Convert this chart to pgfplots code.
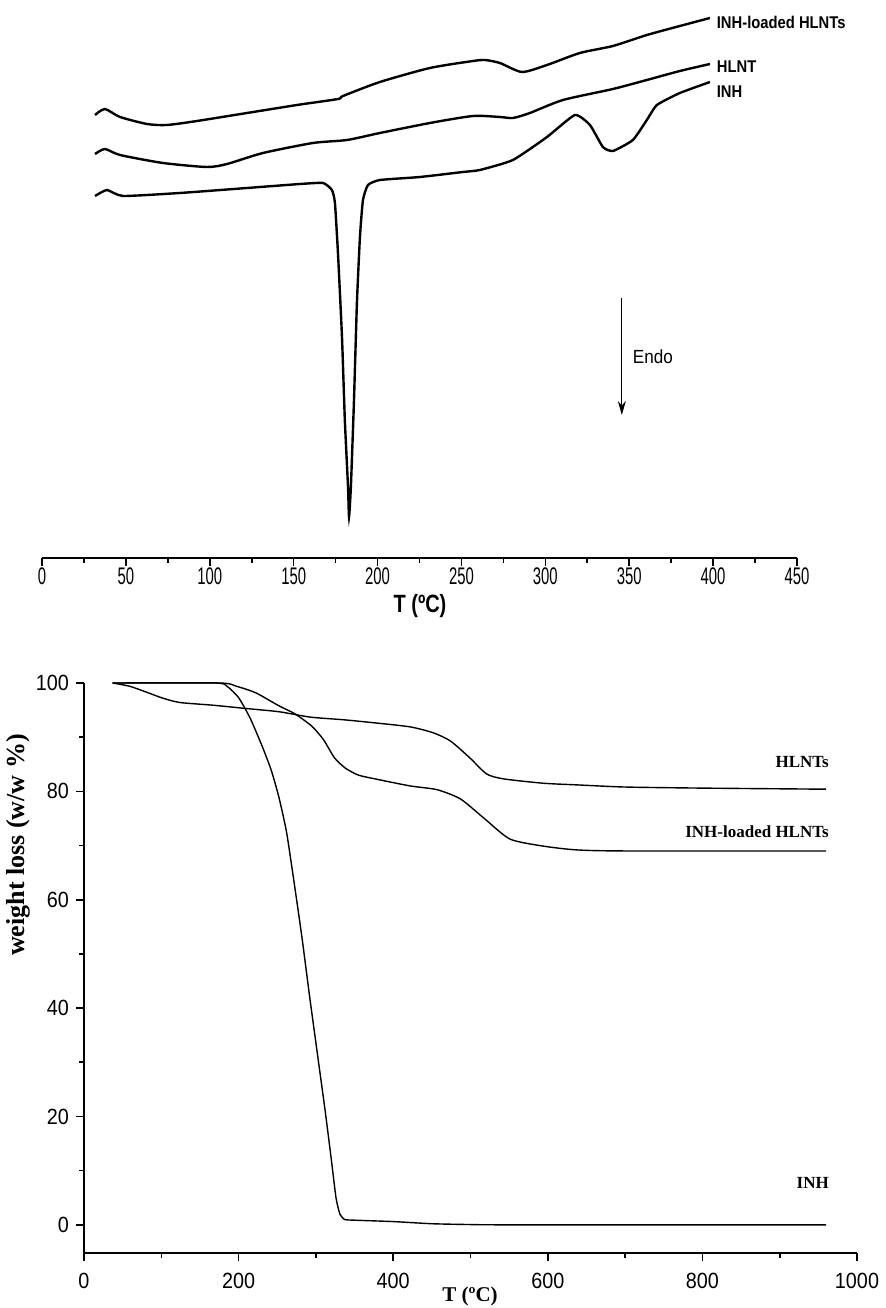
\documentclass[border=0pt]{standalone}
\usepackage{pgfplots}
\pgfplotsset{compat=1.18}
\usepackage{fontspec}
\setmainfont{Liberation Serif}
\newfontfamily\arial{Liberation Sans}
\usetikzlibrary{arrows.meta}
\begin{document}
\begin{tikzpicture}
\useasboundingbox (0,0) rectangle (443pt,654pt);
% ---------------- DSC (top) ----------------
\begin{axis}[
  at={(21pt,375pt)}, anchor=south west,
  scale only axis, width=377.5pt, height=274pt,
  xmin=0, xmax=450, ymin=0, ymax=548,
  axis x line=bottom, axis y line=none,
  axis line style={-, line width=1pt},
  xtick={0,50,...,450}, minor x tick num=1,
  tick align=outside,
  major tick length=4pt, minor tick length=2.5pt,
  every tick/.style={black, line width=0.8pt},
  xticklabel={\scalebox{0.62}[1]{\arial\fontsize{12}{13}\selectfont\pgfmathprintnumber[assume math mode=true]{\tick}}},
  xticklabel style={yshift=2.5pt},
  clip=false,
]
\addplot[black, line width=1.2pt, smooth, tension=0.4] coordinates {
(31.6,443)(37.5,449)(46.5,441)(62.6,434)(74.5,433)(92.4,437)(122.2,445)(152.0,453)(176.4,459)(179.4,462)(201.4,476)(231.2,490)(256.9,497)(264,498)(272.9,495)(286.1,486)(301.0,493)(320.6,505)(340.3,512)(360.5,523)(380.2,532)(398.1,540)
};
\addplot[black, line width=1.2pt, smooth, tension=0.4] coordinates {
(31.6,404)(37.5,409)(46.5,403)(72.1,395)(98.3,391)(110.3,394)(131.7,405)(161.5,415)(181.8,418)(201.4,425)(231.2,435)(256.9,442)(272.9,441)(280.7,440)(290.8,445)(310.5,458)(340.3,469)(360.5,478)(380.2,487)(398.1,494)
};
\addplot[black, line width=1.2pt, smooth, tension=0.3] coordinates {
(31.6,362)(38.7,368)(48.3,362)(82.2,365)(122.2,370)(153.8,374)(167.5,375)(172.8,368)(174.6,355)(176.4,305)(178.8,221)(180.5,138)(182.4,71)(183.0,41)(184.1,71)(185.9,155)(187.7,255)(189.5,321)(191.3,358)(194.3,373)(201.4,378)(225.3,381)(250.9,386)(261.0,388)(280.7,398)(301.0,421)(317.6,443)(326.6,433)(334.3,411)(340.3,407)(352.2,418)(360.5,438)(366.5,453)(380.2,465)(398.1,476)
};
\node[anchor=west, inner sep=0pt] at (axis cs:402,536) {\scalebox{0.87}[1]{\arial\bfseries\fontsize{8.5}{10}\selectfont INH-loaded HLNTs}};
\node[anchor=west, inner sep=0pt] at (axis cs:402,491) {\scalebox{0.87}[1]{\arial\bfseries\fontsize{8.5}{10}\selectfont HLNT}};
\node[anchor=west, inner sep=0pt] at (axis cs:402,466) {\scalebox{0.87}[1]{\arial\bfseries\fontsize{8.5}{10}\selectfont INH}};
\draw[line width=0.5pt, -{Stealth[length=7pt,width=4pt]}] (axis cs:345.6,260) -- (axis cs:345.6,143);
\node[anchor=west, inner sep=0pt] at (axis cs:352,201) {\scalebox{0.9}[1]{\arial\fontsize{9.5}{10}\selectfont Endo}};
\end{axis}
\node at (210pt,351pt) {\scalebox{0.8}[1]{\arial\bfseries\fontsize{12.5}{14}\selectfont T (ºC)}};
% ---------------- TGA (bottom) ----------------
\begin{axis}[
  at={(42pt,27.5pt)}, anchor=south west,
  scale only axis, width=386.5pt, height=285pt,
  xmin=0, xmax=1000, ymin=-5.2, ymax=100,
  axis x line=bottom, axis y line=left,
  axis line style={-, line width=1pt},
  xtick={0,200,...,1000}, minor x tick num=1,
  ytick={0,20,...,100}, minor y tick num=1,
  tick align=outside,
  major tick length=4pt, minor tick length=2.5pt,
  every tick/.style={black, line width=0.8pt},
  /pgf/number format/1000 sep={},
  xticklabel={\scalebox{0.9}[1]{\arial\fontsize{11}{12}\selectfont\pgfmathprintnumber[assume math mode=true]{\tick}}},
  yticklabel={\scalebox{0.9}[1]{\arial\fontsize{11}{12}\selectfont\pgfmathprintnumber[assume math mode=true]{\tick}}},
  xticklabel style={yshift=-2.5pt},
  clip=false,
]
\addplot[black, line width=0.7pt, smooth, tension=0.4] coordinates {
(37,100)(59,99.4)(81,98.3)(102,97.2)(124,96.4)(167,95.9)(209,95.3)(252,94.7)(293,93.7)(337,93.2)(379,92.6)(422,91.9)(452,90.8)(474,89.3)(499,86.2)(521,83.2)(543,82.3)(594,81.5)(637,81.2)(700,80.8)(800,80.6)(960,80.4)
};
\addplot[black, line width=0.7pt, smooth, tension=0.4] coordinates {
(37,100)(175,100)(197,99.4)(222,98.2)(252,95.8)(273,94.3)(295,92)(310,89.5)(324,86.2)(338,84.3)(355,83)(380,82.2)(422,81.0)(457,80.3)(487,78.6)(517,75.1)(551,71.2)(594,69.9)(637,69.2)(700,69.0)(960,69.0)
};
\addplot[black, line width=0.7pt, smooth, tension=0.35] coordinates {
(37,100)(170,100)(185,99.4)(200,97.3)(215,93.5)(230,88.5)(242,84)(252,79)(262,72.5)(272,63)(282,53)(292,42)(302,31.5)(312,21)(320,12)(326,5)(331,2)(336,1.1)(342,0.9)(400,0.6)(450,0.2)(500,0.05)(550,0)(960,0)
};
\node[anchor=east, inner sep=0pt] at (axis cs:964,85.4) {\bfseries\fontsize{8.5}{10}\selectfont HLNTs};
\node[anchor=east, inner sep=0pt] at (axis cs:964,72.5) {\bfseries\fontsize{8.5}{10}\selectfont INH-loaded HLNTs};
\node[anchor=east, inner sep=0pt] at (axis cs:964,7.7) {\bfseries\fontsize{8.5}{10}\selectfont INH};
\end{axis}
\node at (235pt,6pt) {\bfseries\fontsize{10.5}{12}\selectfont T (ºC)};
\node[rotate=90] at (9pt,231.5pt) {\bfseries\fontsize{13}{15}\selectfont weight loss (w/w \%)};
\end{tikzpicture}
\end{document}
